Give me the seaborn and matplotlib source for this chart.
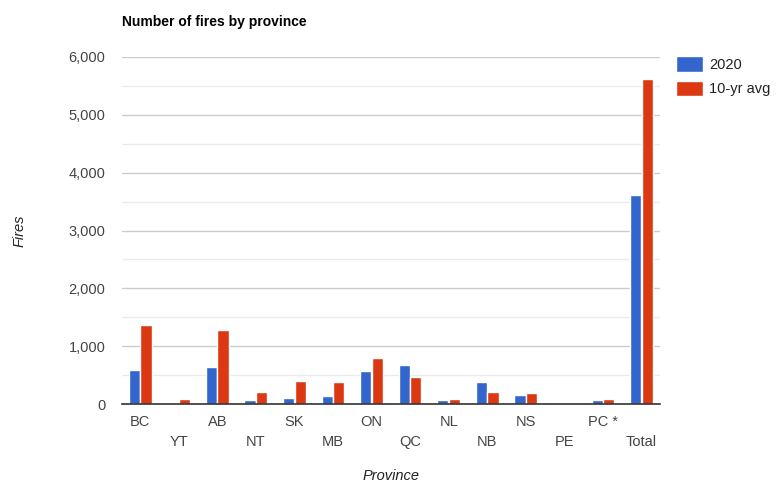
import pandas as pd
import seaborn as sns
import matplotlib.pyplot as plt
from matplotlib.ticker import MultipleLocator, FuncFormatter

# Data
provinces = ['BC', 'YT', 'AB', 'NT', 'SK', 'MB', 'ON', 'QC', 'NL', 'NB', 'NS', 'PE', 'PC *', 'Total']
fires_2020 = [593, 23, 640, 70, 105, 145, 576, 674, 70, 384, 163, 2, 70, 3614]
fires_avg = [1360, 87, 1285, 203, 401, 384, 797, 459, 87, 203, 186, 5, 87, 5620]
series_names = ['2020', '10-yr avg']

df = pd.DataFrame({
    'Province': provinces * 2,
    'Fires': fires_2020 + fires_avg,
    'Series': [series_names[0]] * len(provinces) + [series_names[1]] * len(provinces),
})

sns.set_style('white')
plt.rcParams['font.family'] = ['Liberation Sans', 'DejaVu Sans']

fig = plt.figure(figsize=(7.76, 4.87), dpi=100)
ax = fig.add_axes([122 / 776, 1 - 404 / 487, (660 - 122) / 776, (404 - 57) / 487])

sns.barplot(data=df, x='Province', y='Fires', hue='Series',
            palette=['#3366cc', '#dc3912'], saturation=1, width=0.6, gap=0.03,
            ax=ax, legend=True)

ax.set_ylim(0, 6000)
ax.set_xlim(-0.47, len(provinces) - 0.52)
ax.yaxis.set_major_locator(MultipleLocator(1000))
ax.yaxis.set_minor_locator(MultipleLocator(500))
ax.yaxis.set_major_formatter(FuncFormatter(lambda v, p: f'{int(v):,}'))
ax.grid(axis='y', which='major', color='#cccccc', linewidth=1)
ax.grid(axis='y', which='minor', color='#ebebeb', linewidth=1)
ax.set_axisbelow(True)
for s in ['top', 'right', 'left']:
    ax.spines[s].set_visible(False)
ax.spines['bottom'].set_color('#333333')
ax.spines['bottom'].set_linewidth(1.2)

# staggered category labels
labels = [p if i % 2 == 0 else '\n' + p for i, p in enumerate(provinces)]
ax.set_xticks(range(len(provinces)))
ax.set_xticklabels(labels, fontsize=10.5, color='#444444', va='top', linespacing=1.55)
ax.tick_params(axis='x', length=0, pad=8)
ax.tick_params(axis='y', length=0, pad=12, labelsize=10.5, labelcolor='#444444')

ax.set_xlabel('Province', fontsize=10.5, style='italic', color='#222222', labelpad=14)
ax.set_ylabel('Fires', fontsize=10.5, style='italic', color='#222222', labelpad=30)
fig.text(122 / 776, 1 - 22 / 487, 'Number of fires by province', fontsize=10,
         fontweight='bold', color='#000000', va='center', ha='left')

leg = ax.legend(loc='upper left', bbox_to_anchor=(1.018, 1.02), frameon=False,
                borderaxespad=0, fontsize=10.5, handlelength=1.9, handleheight=1.3,
                labelspacing=0.6, handletextpad=0.4)
for t in leg.get_texts():
    t.set_color('#222222')

fig.savefig('out.png', dpi=100)
